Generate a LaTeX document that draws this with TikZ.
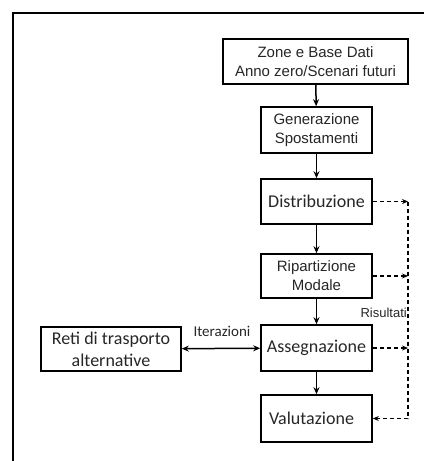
\documentclass[tikz,border=0pt]{standalone}
\usepackage{fontspec}
\setmainfont{Carlito}
\newfontfamily\arialf{Liberation Sans}
\usetikzlibrary{arrows.meta}
\tikzset{
  passo/.style={draw,line width=1.6pt,align=center,inner sep=0pt,text=black!85,
    minimum width=111pt,minimum height=45pt,
    font=\fontsize{18}{22}\selectfont},
  passoa/.style={passo,font=\arialf\fontsize{15}{19}\selectfont},
  freccia/.style={line width=1.5pt,-{Stealth[length=7pt,width=6pt]}},
  risult/.style={line width=1.3pt,dashed,dash pattern=on 4pt off 3pt,-{Stealth[length=6pt,width=5pt]}}
}
\begin{document}
\begin{tikzpicture}[x=1pt,y=-1pt]
\useasboundingbox (0,0) rectangle (424,461);
% cornice
\draw[line width=2.2pt] (13,461)--(13,13)--(424,13);

\node[passoa,minimum width=185pt] (zone) at (315.5,61.5) {Zone e Base Dati\\Anno zero/Scenari futuri};
\node[passoa,minimum height=46pt] (gen) at (316.5,130) {Generazione\\Spostamenti};
\node[passo] (distr) at (316.5,201.5) {Distribuzione};
\node[passoa,minimum height=44pt] (rip) at (316.5,276) {Ripartizione\\Modale};
\node[passo,minimum height=46pt] (ass) at (316.5,348) {Assegnazione};
\node[passo,minimum height=47pt] (val) at (316.5,418.5) {Valutazione\hspace{10pt}};
\node[passo,minimum width=140pt,minimum height=44pt] (reti) at (111,349) {Reti di trasporto\\alternative};

\draw[freccia] (zone)--(gen);
\draw[freccia] (gen)--(distr);
\draw[freccia] (distr)--(rip);
\draw[freccia] (rip)--(ass);
\draw[freccia] (ass)--(val);
\draw[line width=1.5pt,{Stealth[length=7pt,width=6pt]}-{Stealth[length=7pt,width=6pt]}] (reti)--(ass);
\node[text=black!85,font=\fontsize{15}{18}\selectfont] (iter) at (222,331) {Iterazioni};

% risultati
\coordinate (bus) at (408,201);
\draw[risult] (distr.east)--(distr.east-|bus);
\draw[risult] (rip.east)--(rip.east-|bus);
\draw[risult] (ass.east)--(ass.east-|bus);
\draw[risult] (distr.east-|bus)--(val.east-|bus)--(val.east);
\node[anchor=east,inner sep=0pt,text=black!85,font=\arialf\fontsize{13}{15}\selectfont] (ris) at (407,313) {Risultati};
\end{tikzpicture}
\end{document}
